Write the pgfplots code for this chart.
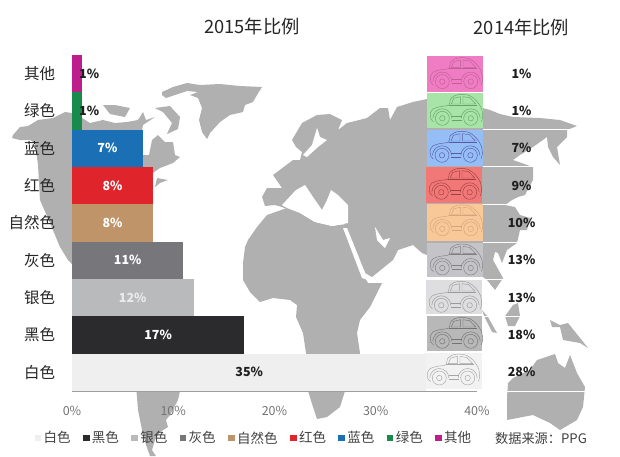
\documentclass[border=0pt]{standalone}
\usepackage{fontspec}
\usepackage{pgfplots}
\pgfplotsset{compat=1.18}
\setmainfont{Noto Sans CJK SC}
\definecolor{mapg}{HTML}{B0B0B0}
\definecolor{cOther}{HTML}{BE1E8C}
\definecolor{cGreen}{HTML}{178A4C}
\definecolor{cBlue}{HTML}{1B6FB5}
\definecolor{cRed}{HTML}{E0242C}
\definecolor{cTan}{HTML}{C09469}
\definecolor{cGray}{HTML}{77767B}
\definecolor{cSilver}{HTML}{B9BABC}
\definecolor{cBlack}{HTML}{2B2B2D}
\definecolor{cWhite}{HTML}{EFEFEF}
\newcommand{\fs}[1]{\fontsize{#1pt}{#1pt}\selectfont}
\newcommand{\carcell}[6]{% x, y, h, w, fill, stroke
\begin{scope}[shift={({#1*1pt},{(456-#2)*1pt})},yscale=-1,x=1pt,y=1pt]
\fill[#5] (0,0) rectangle (#4,#3);
\begin{scope}[draw=#6,line width=0.45pt]
\draw plot[smooth,tension=0.5] coordinates {(3.3,20.3)(6,16)(12.7,13.7)(22,12)(23.3,6.3)(27.7,2.7)(34.3,1.3)(42.7,2.7)(49.3,7.7)(54.3,15.3)(55.7,23.7)(54.3,28.7)};
\draw (3.3,20.3)--(3.8,26)--(6.5,29);
\draw (24.3,11)--(26.7,5.3)--(33.3,3.7)--(33.3,11)--cycle;
\draw (36,3.7)--(42.7,4.7)--(48.7,11)--(36,11)--cycle;
\draw (22,12)--(50,12);
\draw (24.5,23)--(34.5,23) (24.5,27)--(34.5,27);
\foreach \c in {15.3,43.7}{
\draw (\c,25.3) circle[radius=7pt];
\draw (\c,25.3) circle[radius=2.7pt];
\draw (\c-9.5,25.3) arc[start angle=180,end angle=360,radius=9.5pt];
}
\end{scope}
\end{scope}}
\begin{document}
\begin{tikzpicture}
\path[use as bounding box] (0,0) rectangle (620pt,456pt);
% --- world map, in picture pixels
\begin{axis}[at={(0,0)},anchor=south west,width=620pt,height=456pt,scale only axis,
  xmin=0,xmax=620,ymin=0,ymax=456,y dir=reverse,hide axis,
  land/.style={fill=mapg,draw=none,mark=none,forget plot},
  sea/.style={fill=white,draw=none,mark=none,forget plot},
  rule/.style={draw=white,line width=1pt,mark=none,forget plot}]
% Greenland
\addplot[land] coordinates {(162,92)(173,87)(187,83)(200,85)(220,84)(240,86)(262,87)(257,95)(253,102)(245,105)(243,112)(230,115)(220,122)(210,133)(207,139)(202,132)(199,120)(202,108)(198,98)(190,95)(198,92)(187,91)(175,95)(166,98)(162,95)} -- cycle;
% Arctic islands
\addplot[land] coordinates {(103,105)(115,105)(130,108)(125,117)(110,114)} -- cycle;
\addplot[land] coordinates {(155,108)(170,106)(180,117)(178,129)(167,134)(172,123)(163,112)} -- cycle;
% North America
\addplot[land] coordinates {(13,135)(20,127)(28,126)(38,120)(53,118)(65,112)(72,113)(82,118)(90,123)(103,120)(115,123)(127,122)(138,120)(143,112)(146,120)(155,117)(143,125)(142,130)(142,155)(149,155)(152,140)(158,135)(165,142)(173,142)(175,155)(180,157)(173,163)(160,168)(150,175)(150,240)(100,300)(72,264)(68,260)(60,247)(50,223)(40,200)(38,165)(35,143)(30,140)(20,140)(12,138)} -- cycle;
\addplot[land] coordinates {(155,187)(157,178)(168,180)(160,183)} -- cycle;
% South America
\addplot[land] coordinates {(136,385)(185,385)(180,391)(178,400)(170,415)(166,420)(168,427)(160,432)(155,440)(152,450)(156,456)(150,456)(146,445)(142,430)(138,410)} -- cycle;
% Africa
\addplot[land] coordinates {(248,240)(257,227)(267,215)(287,208)(300,213)(315,222)(332,226)(346,224)(350,240)(362,273)(368,283)(382,283)(370,307)(360,320)(357,333)(360,353)(345,391)(340,407)(327,417)(317,419)(313,407)(308,391)(306,353)(303,333)(296,317)(297,305)(290,300)(273,298)(260,302)(250,292)(243,280)(243,263)(245,247)} -- cycle;
% Eurasia
\addplot[land] coordinates {(262,197)(267,188)(282,188)(273,175)(293,160)(300,160)(302,152)(296,147)(292,140)(302,123)(317,115)(330,114)(342,120)(338,130)(347,123)(367,118)(380,108)(388,108)(390,120)(397,107)(413,102)(427,99)(483,108)(490,110)(500,114)(513,117)(540,118)(560,120)(577,126)(567,130)(567,137)(557,147)(560,165)(553,157)(548,147)(547,137)(533,147)(520,155)(513,160)(533,167)(533,180)(525,195)(518,197)(512,200)(505,205)(515,207)(520,215)(530,218)(527,230)(520,230)(517,243)(507,250)(502,263)(498,253)(495,252)(493,260)(503,278)(495,290)(487,280)(483,277)(427,255)(422,253)(413,245)(398,250)(393,260)(372,277)(365,273)(345,232)(345,224)(330,215)(300,215)(282,207)(275,205)(265,206)} -- cycle;
% islands
\addplot[land] coordinates {(482,310)(488,317)(497,333)(492,332)(485,318)} -- cycle;
\addplot[land] coordinates {(505,316)(508,326)(515,326)(520,316)(518,303)(513,305)(508,312)} -- cycle;
\addplot[land] coordinates {(550,320)(560,325)(568,323)(588,348)(580,343)(563,340)(560,327)(552,327)} -- cycle;
% Australia
\addplot[land] coordinates {(508,383)(513,378)(530,370)(537,360)(555,354)(558,363)(565,368)(570,355)(577,373)(585,387)(583,407)(577,420)(560,430)(550,423)(533,415)(507,420)(507,397)} -- cycle;
% seas
\addplot[sea] coordinates {(282,205)(296,190)(305,185)(313,197)(322,210)(327,200)(331,190)(338,195)(348,205)(348,223)(332,226)(315,222)(300,213)(287,208)} -- cycle;
\addplot[sea] coordinates {(317,128)(320,137)(327,140)(318,147)(307,157)(303,155)(312,145)} -- cycle;
\addplot[sea] coordinates {(343,228)(347,228)(368,280)(362,278)} -- cycle;
\addplot[sea] coordinates {(375,227)(383,240)(390,238)(385,248)(377,240)} -- cycle;
% white rules that run across the map
\addplot[rule] coordinates {(483,129)(570,129)};
\addplot[rule] coordinates {(483,166.7)(540,166.7)};
\addplot[rule] coordinates {(483,204)(535,204)};
\addplot[rule] coordinates {(483,242)(520,242)};
\addplot[rule] coordinates {(483,279)(505,279)};
\addplot[rule] coordinates {(483,316)(525,316)};
\addplot[rule] coordinates {(483,391)(592,391)};
\end{axis}
% --- 2014 column
\carcell{427}{56.3}{35.5}{56}{fill={rgb,255:red,240;green,124;blue,196}}{black!10!magenta!55!gray}
\carcell{427}{93}{35}{56}{fill={rgb,255:red,168;green,228;blue,168}}{green!40!black!60!white}
\carcell{426.7}{130}{35.5}{56.3}{fill={rgb,255:red,148;green,190;blue,245}}{blue!50!black!65!white}
\carcell{426}{167}{35.5}{56}{fill={rgb,255:red,242;green,120;blue,120}}{red!50!black!75!white}
\carcell{427}{203.5}{37}{56}{fill={rgb,255:red,248;green,200;blue,152}}{brown!70!white}
\carcell{427}{242.7}{34.5}{56}{fill={rgb,255:red,196;green,196;blue,200}}{black!50}
\carcell{426}{280}{33.5}{56}{fill={rgb,255:red,222;green,222;blue,224}}{black!40}
\carcell{427}{316}{35}{55}{fill={rgb,255:red,184;green,184;blue,184}}{black!55}
\carcell{424}{352.7}{36.5}{58}{fill={rgb,255:red,242;green,242;blue,242}}{black!35}
% --- data
\begin{axis}[at={(72pt,65pt)},anchor=south west,width=405pt,height=336pt,scale only axis,
  clip=false,xmin=0,xmax=40,ymin=-0.5,ymax=8.5,
  xbar,bar width=37.33pt,bar shift=0pt,
  axis lines*=left,axis line style={draw=black!38,line width=0.8pt},
  major tick style={draw=none},
  xtick={0,10,20,30,40},xticklabels={0\%,10\%,20\%,30\%,40\%},
  ytick={0,...,8},yticklabels={白色,黑色,银色,灰色,自然色,红色,蓝色,绿色,其他},
  xticklabel style={font=\fs{12.5},text=black!55,yshift=-12pt},
  yticklabel style={font=\fs{15.5},text=black!85,xshift=-9pt},
  legend columns=-1,
  legend style={at={(rel axis cs:-0.0925,-0.14)},anchor=west,draw=none,fill=none,font=\fs{13.5},
    inner sep=0pt,outer sep=0pt,text=black!75,
    nodes={inner xsep=2.4pt,inner ysep=0pt},
    /tikz/every even column/.append style={column sep=10pt}},
  legend image code/.code={\path[#1] (0pt,-3.3pt) rectangle (6.6pt,3.3pt);},
  every axis plot/.append style={draw=none}]
\addplot[fill=cWhite] coordinates {(35,0)};
\addplot[fill=cBlack] coordinates {(17,1)};
\addplot[fill=cSilver] coordinates {(12,2)};
\addplot[fill=cGray] coordinates {(11,3)};
\addplot[fill=cTan] coordinates {(8,4)};
\addplot[fill=cRed] coordinates {(8,5)};
\addplot[fill=cBlue] coordinates {(7,6)};
\addplot[fill=cGreen] coordinates {(1,7)};
\addplot[fill=cOther] coordinates {(1,8)};
\legend{白色,黑色,银色,灰色,自然色,红色,蓝色,绿色,其他}
\tikzset{v/.style={font=\fs{12.5}\bfseries,text=white},b/.style={font=\fs{12.5}\bfseries,text=black!88}}
\node[b] at (axis cs:17.5,0) {35\%};
\node[v] at (axis cs:8.5,1) {17\%};
\node[v,text=black!8] at (axis cs:6,2) {12\%};
\node[v] at (axis cs:5.5,3) {11\%};
\node[v] at (axis cs:4,4) {8\%};
\node[v] at (axis cs:4,5) {8\%};
\node[v] at (axis cs:3.5,6) {7\%};
\node[b] at (axis cs:1.7,7) {1\%};
\node[b] at (axis cs:1.7,8) {1\%};
\node[b] at (axis cs:44.4,8) {1\%};
\node[b] at (axis cs:44.4,7) {1\%};
\node[b] at (axis cs:44.4,6) {7\%};
\node[b] at (axis cs:44.4,5) {9\%};
\node[b] at (axis cs:44.4,4) {10\%};
\node[b] at (axis cs:44.4,3) {13\%};
\node[b] at (axis cs:44.4,2) {13\%};
\node[b] at (axis cs:44.4,1) {18\%};
\node[b] at (axis cs:44.4,0) {28\%};
\end{axis}
\node[font=\fs{18.3},text=black!85] at (252pt,429pt) {2015年比例};
\node[font=\fs{18.3},text=black!85] at (521.5pt,428pt) {2014年比例};
\node[font=\fs{13.2},text=black!75] at (541pt,18pt) {数据来源：PPG};
\end{tikzpicture}
\end{document}
